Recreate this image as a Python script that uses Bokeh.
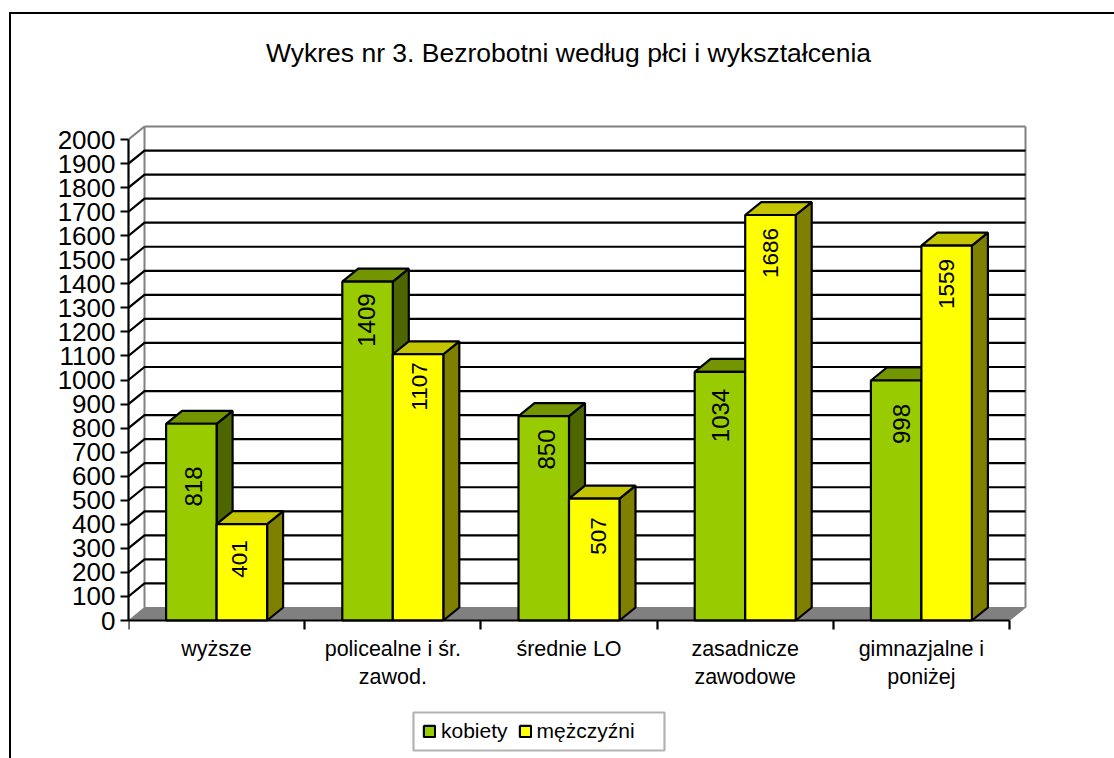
from bokeh.plotting import figure
from bokeh.embed import file_html
from bokeh.resources import INLINE
from bokeh.core.properties import value
from bokeh.models import (Range1d, FixedTicker, Legend, LegendItem, Label, BoxAnnotation)

title_text = "Wykres nr 3. Bezrobotni według płci i wykształcenia"
categories = ["wyższe", "policealne i śr.\nzawod.", "średnie LO", "zasadnicze\nzawodowe", "gimnazjalne i\nponiżej"]
kobiety = [818, 1409, 850, 1034, 998]
mezczyzni = [401, 1107, 507, 1686, 1559]
y_ticks = list(range(0, 2001, 100))

FONT = "Liberation Sans"
# scales: pixels per category / per unit of value
PX_X, PX_Y = 176.2, 0.2405
# 3-D projection, in data units
DX, DY = 0.0908, 54
BAR_W = 0.2866
GREEN, GREEN_SIDE, GREEN_TOP = "#99CC00", "#4D6600", "#739600"
YELLOW, YELLOW_SIDE, YELLOW_TOP = "#FFFF00", "#808000", "#C4C400"
LW = 2.2
# placement of the value labels relative to bar top, px
off_k_x, off_k_y = [2.5, -1, 3, 1, 5], [62.7, 38.4, 33.4, 43.7, 43.5]
off_m_x, off_m_y = [-2, 1, 4, 0, 0], [35, 32.2, 37.4, 38, 38.4]

n = len(categories)
p = figure(width=1105, height=746, output_backend="svg", toolbar_location=None,
           x_range=Range1d(0, 986 / PX_X), y_range=Range1d(-136 / PX_Y, 606 / PX_Y),
           min_border_left=117, min_border_right=2, min_border_top=0, min_border_bottom=4,
           background_fill_color="white", border_fill_color="white", outline_line_color=None,
           margin=(12, 0, 0, 9),
           styles={"border-left": "2px solid black", "border-top": "2px solid black"})
p.xgrid.visible = False
p.ygrid.visible = False

# walls
top = y_ticks[-1]
p.multi_line([[DX, DX], [n + DX, n + DX], [DX, n + DX], [0, DX]],
             [[DY, top + DY], [DY, top + DY], [top + DY, top + DY], [top, top + DY]],
             line_color="#808080", line_width=2)
# grid lines
grid = y_ticks[1:-1]
p.multi_line([[0, DX, n + DX] for _ in grid], [[v, v + DY, v + DY] for v in grid],
             line_color="black", line_width=LW)
# floor
p.patch([0, DX, n + DX, n], [0, DY, DY, 0], fill_color="#808080", line_color="#808080", line_width=1)


def bars(values, left, col, side, topc):
    xs_side, ys_side, xs_top, ys_top, lefts, rights = [], [], [], [], [], []
    for i, v in enumerate(values):
        l, r = i + left, i + left + BAR_W
        lefts.append(l)
        rights.append(r)
        xs_side.append([r, r + DX, r + DX, r])
        ys_side.append([0, DY, v + DY, v])
        xs_top.append([l, l + DX, r + DX, r])
        ys_top.append([v, v + DY, v + DY, v])
    p.patches(xs_side, ys_side, fill_color=side, line_color="black", line_width=LW)
    p.patches(xs_top, ys_top, fill_color=topc, line_color="black", line_width=LW)
    return p.quad(left=lefts, right=rights, bottom=[0] * n, top=values,
                  fill_color=col, line_color="black", line_width=LW)


r_k = bars(kobiety, 0.5 - BAR_W, GREEN, GREEN_SIDE, GREEN_TOP)
r_m = bars(mezczyzni, 0.5, YELLOW, YELLOW_SIDE, YELLOW_TOP)


def labels(values, left, ox, oy, size):
    p.text([i + left + BAR_W / 2 for i in range(n)], values, text=[str(v) for v in values],
           angle=90, angle_units="deg", text_align="center", text_baseline="middle",
           x_offset=ox, y_offset=oy, text_font=value(FONT), text_font_size=size, text_color="black")


labels(kobiety, 0.5 - BAR_W, off_k_x, off_k_y, "24px")
labels(mezczyzni, 0.5, off_m_x, off_m_y, "22.5px")

# axes
ya = p.yaxis[0]
ya.ticker = FixedTicker(ticks=y_ticks)
ya.bounds = (0, 2000)
ya.axis_line_color = "black"
ya.axis_line_width = LW
ya.major_tick_line_color = "black"
ya.major_tick_line_width = LW
ya.major_tick_out = 8
ya.major_tick_in = 0
ya.minor_tick_line_color = None
ya.major_label_standoff = 5
ya.major_label_text_font = FONT
ya.major_label_text_font_size = "26px"
ya.major_label_text_color = "black"

xa = p.xaxis[0]
xa.fixed_location = 0
xa.ticker = FixedTicker(ticks=[i + 0.5 for i in range(n)], minor_ticks=list(range(n + 1)))
xa.bounds = (0, n)
xa.axis_line_color = "black"
xa.axis_line_width = LW
xa.major_tick_line_color = None
xa.major_tick_out = 8
xa.minor_tick_line_color = "black"
xa.minor_tick_line_width = LW
xa.minor_tick_out = 9
xa.minor_tick_in = 0
xa.major_label_overrides = {i + 0.5: c for i, c in enumerate(categories)}
xa.major_label_standoff = 7
xa.major_label_text_font = FONT
xa.major_label_text_font_size = "21.5px"
xa.major_label_text_color = "black"
xa.major_label_text_line_height = 1.2

# title
p.add_layout(Label(x=440 / PX_X, y=568 / PX_Y, text=title_text, text_align="center", text_baseline="middle",
                   text_font=FONT, text_font_size="26.5px", text_color="black"))

# legend frame and legend
p.add_layout(BoxAnnotation(left=285 / PX_X, right=536 / PX_X, bottom=-130 / PX_Y, top=-92 / PX_Y,
                           fill_color="white", fill_alpha=1, line_color="black", line_width=LW))
legend = Legend(items=[LegendItem(label="kobiety", renderers=[r_k]), LegendItem(label="mężczyźni", renderers=[r_m])],
                orientation="horizontal", location=(294, 13), border_line_color=None,
                background_fill_alpha=0, padding=6, margin=0, spacing=10,
                glyph_width=14, glyph_height=14, label_standoff=5, label_text_font=FONT,
                label_text_font_size="21px", label_text_color="black")
p.add_layout(legend)

open("out.html", "w").write(file_html(p, INLINE))
